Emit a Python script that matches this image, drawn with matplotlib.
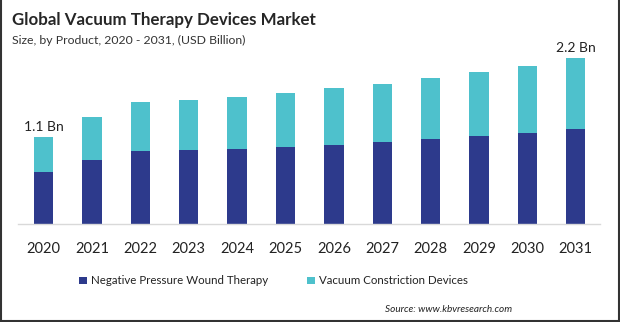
import matplotlib.pyplot as plt
import numpy as np

plt.rcParams['font.family'] = ['Lato', 'DejaVu Sans']

years = ['2020', '2021', '2022', '2023', '2024', '2025',
         '2026', '2027', '2028', '2029', '2030', '2031']
npwt = [0.68, 0.83, 0.95, 0.96, 0.975, 1.00, 1.03, 1.07, 1.105, 1.14, 1.18, 1.235]
vcd = [0.45, 0.56, 0.64, 0.65, 0.675, 0.70, 0.73, 0.75, 0.795, 0.84, 0.87, 0.925]
end_labels = {0: '1.1 Bn', 11: '2.2 Bn'}

dark = '#2d3a8c'
teal = '#4ec1cc'

W, H = 620, 322
fig = plt.figure(figsize=(W / 100, H / 100), dpi=100)

ax = fig.add_axes([18 / W, (H - 224) / H, (600 - 18) / W, (224 - 50) / H])
x = np.arange(len(years))
ax.bar(x, npwt, width=0.4, color=dark, label='Negative Pressure Wound Therapy')
tot = np.array(npwt) + np.array(vcd)
ax.bar(x, vcd, width=0.4, bottom=npwt, color=teal, label='Vacuum Constriction Devices')

for i, txt in end_labels.items():
    ax.annotate(txt, (x[i], tot[i]), xytext=(0, 3), textcoords='offset points',
                ha='center', va='bottom', fontsize=10, color='#222222')

ax.set_xlim(-0.53, 11.5)
ax.set_ylim(0, 2.26)
ax.set_xticks(x)
ax.set_xticklabels(years, fontsize=10.5, color='#222222')
ax.tick_params(axis='x', length=0, pad=13)
ax.set_yticks([])
for s in ['top', 'right', 'left']:
    ax.spines[s].set_visible(False)
ax.spines['bottom'].set_color('#d9d9d9')
ax.spines['bottom'].set_linewidth(1)

fig.text(12 / W, 1 - 20 / H, 'Global Vacuum Therapy Devices Market', fontsize=12.2,
         fontweight='bold', color='#262626', va='center', ha='left')
fig.text(12 / W, 1 - 40 / H, 'Size, by Product, 2020 - 2031, (USD Billion)', fontsize=8.8,
         color='#333333', va='center', ha='left')

leg = fig.legend(loc='center left', bbox_to_anchor=(69 / W, 1 - 281 / H), ncol=2, frameon=False,
                 fontsize=8.3, handlelength=0.65, handleheight=0.65, handletextpad=0.35,
                 columnspacing=3.4)
for t in leg.get_texts():
    t.set_color('#222222')

fig.text(512 / W, 1 - 309 / H, 'Source: www.kbvresearch.com', fontsize=7.2, style='italic',
         color='#222222', ha='right', va='center')

# frame on left, right and bottom
for xs, ys in [([1, 1], [0, H]), ([W - 1, W - 1], [0, H]), ([0, W], [1, 1])]:
    fig.add_artist(plt.Line2D([v / W for v in xs], [v / H for v in ys],
                              color='#333333', linewidth=1.5))

fig.savefig('out.png', dpi=100)
